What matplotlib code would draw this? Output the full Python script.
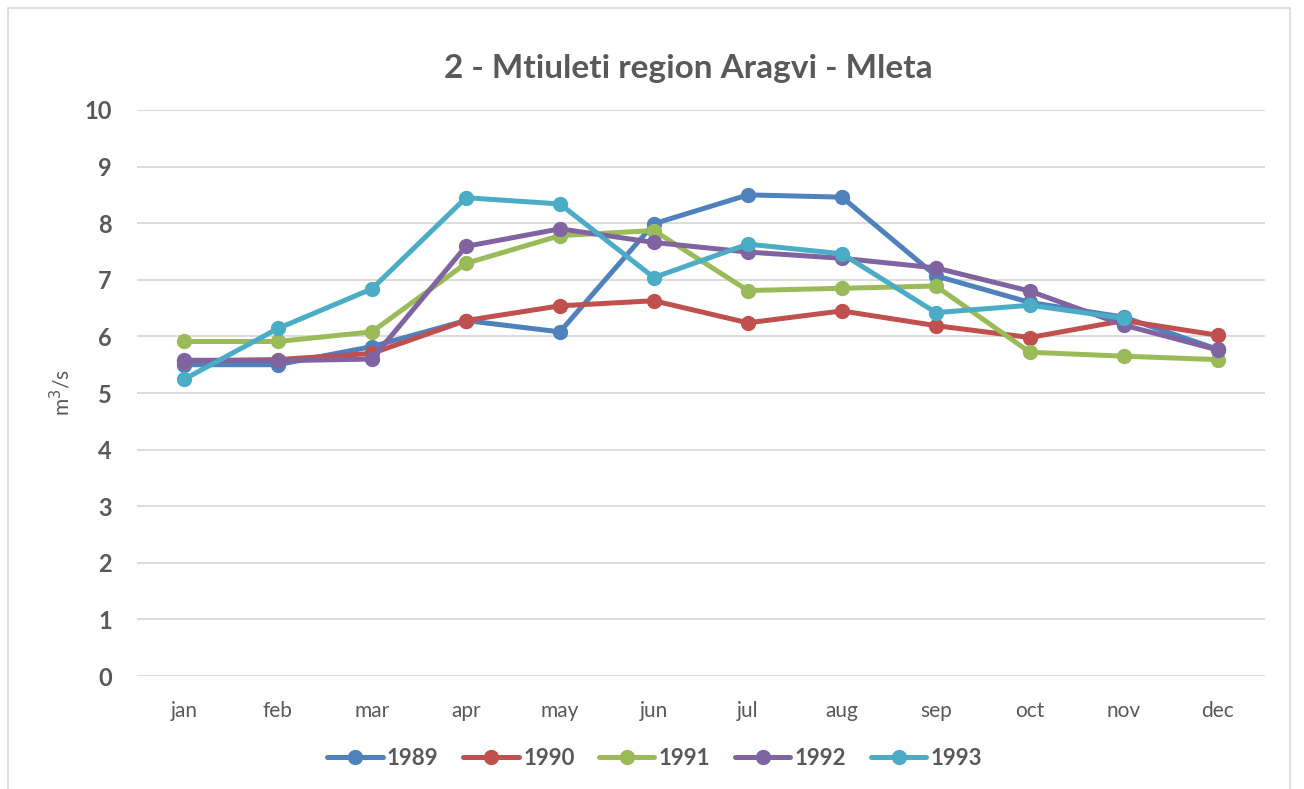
import matplotlib.pyplot as plt
from matplotlib.patches import Rectangle

months = ["jan", "feb", "mar", "apr", "may", "jun", "jul", "aug", "sep", "oct", "nov", "dec"]

y1989 = [5.50, 5.50, 5.82, 6.28, 6.08, 7.99, 8.50, 8.46, 7.07, 6.60, 6.34, 5.77]
y1990 = [5.57, 5.59, 5.70, 6.28, 6.54, 6.63, 6.24, 6.45, 6.19, 5.98, 6.28, 6.02]
y1991 = [5.91, 5.91, 6.08, 7.29, 7.78, 7.87, 6.81, 6.85, 6.89, 5.72, 5.65, 5.59]
y1992 = [5.58, 5.57, 5.60, 7.59, 7.90, 7.66, 7.49, 7.38, 7.21, 6.80, 6.20, 5.76]
y1993 = [5.24, 6.14, 6.84, 8.45, 8.34, 7.04, 7.63, 7.46, 6.42, 6.55, 6.32]

series = [("1989", y1989, "#4F81BD"),
          ("1990", y1990, "#C0504D"),
          ("1991", y1991, "#9BBB59"),
          ("1992", y1992, "#8064A2"),
          ("1993", y1993, "#4BACC6")]

plt.rcParams['font.family'] = ['Lato', 'DejaVu Sans']

fig = plt.figure(figsize=(13.04, 7.89), dpi=100)
ax = fig.add_axes([0.105, 0.1432, 0.865, 0.7174])

for name, vals, col in series:
    ax.plot(range(len(vals)), vals, color=col, lw=3.6, marker="o", ms=10,
            label=name, solid_capstyle="round")

ax.set_xlim(-0.5, 11.5)
ax.set_ylim(0, 10)
ax.set_yticks(range(0, 11))
ax.set_xticks(range(12))
ax.set_xticklabels(months)
ax.grid(axis="y", color="#D9D9D9", lw=1.3)
ax.set_axisbelow(True)
for s in ax.spines.values():
    s.set_visible(False)
ax.tick_params(length=0)
ax.tick_params(axis="x", labelsize=15, labelcolor="#595959", pad=18)
ax.tick_params(axis="y", labelsize=17, labelcolor="#595959", pad=18)
for t in ax.get_yticklabels():
    t.set_fontweight("bold")
ax.set_ylabel("m$^3$/s", fontsize=15, color="#595959", labelpad=8)

fig.text(0.528, 0.913, "2 - Mtiuleti region Aragvi - Mleta", ha="center", va="center",
         fontsize=24, fontweight="bold", color="#595959")

leg = fig.legend(loc="center", bbox_to_anchor=(0.502, 0.039), ncol=5, frameon=False,
                 fontsize=16, handlelength=2.5, columnspacing=1.1, handletextpad=0.2)
for t in leg.get_texts():
    t.set_fontweight("bold")
    t.set_color("#595959")

fig.patches.append(Rectangle((0.006, -0.01), 0.983, 1.0, transform=fig.transFigure,
                             fill=False, edgecolor="#D9D9D9", lw=1.2))

fig.savefig("out.png", dpi=100)
